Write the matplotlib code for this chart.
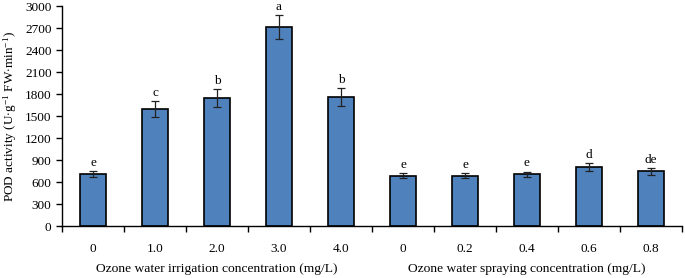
import matplotlib
matplotlib.use('Agg')
import matplotlib.pyplot as plt
import numpy as np

plt.rcParams['font.family'] = ['Liberation Serif', 'DejaVu Serif']
plt.rcParams['mathtext.fontset'] = 'custom'
plt.rcParams['mathtext.rm'] = 'Liberation Serif'
plt.rcParams['mathtext.it'] = 'Liberation Serif:italic'

tick_labels = ['0', '1.0', '2.0', '3.0', '4.0', '0', '0.2', '0.4', '0.6', '0.8']
pod_values = [710, 1600, 1750, 2720, 1760, 690, 690, 705, 800, 745]
pod_errors = [35, 110, 125, 160, 125, 35, 35, 37, 55, 50]
letters = ['e', 'c', 'b', 'a', 'b', 'e', 'e', 'e', 'd', 'de']
groups = ['Ozone water irrigation concentration (mg/L)',
          'Ozone water spraying concentration (mg/L)']

fig = plt.figure(figsize=(6.85, 2.78), dpi=100)
ax = fig.add_axes([0.0905, 0.187, 0.905, 0.79])

x = np.arange(len(pod_values))
ax.bar(x, pod_values, width=0.42, color='#4F81BD', edgecolor='black', linewidth=1.2,
       yerr=pod_errors, error_kw=dict(ecolor='#222222', elinewidth=0.9, capsize=3, capthick=0.9))

for xi, v, e, t in zip(x, pod_values, pod_errors, letters):
    ax.text(xi, v + e + 30, t, ha='center', va='bottom', fontsize=9.5, clip_on=False)

ax.set_xlim(-0.5, len(x) - 0.5)
ax.set_ylim(0, 3000)
ax.set_yticks(np.arange(0, 3001, 300))
ax.tick_params(axis='y', labelsize=9.5, length=4, width=1)

ax.set_xticks(np.arange(-0.5, len(x), 1.0))
ax.set_xticklabels([])
ax.set_xticks(x, minor=True)
ax.set_xticklabels(tick_labels, minor=True)
ax.tick_params(axis='x', which='major', direction='out', length=4, width=1)
ax.tick_params(axis='x', which='minor', length=0, pad=12, labelsize=9.5)

for s in ['top', 'right']:
    ax.spines[s].set_visible(False)
ax.spines['left'].set_linewidth(1)
ax.spines['bottom'].set_linewidth(1)

ax.set_ylabel(r'POD activity (U$\cdot$g$^{-1}$ FW$\cdot$min$^{-1}$)', fontsize=9.5, labelpad=4)

ax.text(2, -0.17, groups[0], transform=ax.get_xaxis_transform(), ha='center', va='top', fontsize=9.7)
ax.text(7, -0.17, groups[1], transform=ax.get_xaxis_transform(), ha='center', va='top', fontsize=9.7)

fig.savefig('out.png', dpi=100)
